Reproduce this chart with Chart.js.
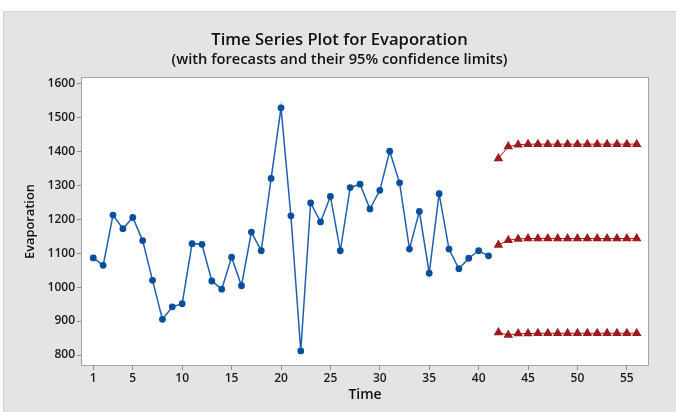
<!DOCTYPE html>
<html>
<head>
<meta charset="utf-8">
<style>
  html, body { margin: 0; padding: 0; background: #ffffff; }
  #panel {
    position: absolute; left: 3px; top: 11px; width: 673px; height: 401px;
    background: #e4e4e4; border-top: 1px solid #d2d2d2; border-left: 1px solid #d2d2d2;
    box-sizing: border-box;
  }
  #evapChart { position: absolute; left: -1px; top: -1px; }
</style>
</head>
<body>
<div id="panel"><canvas id="evapChart" width="673" height="401"></canvas></div>

<script src="https://cdn.jsdelivr.net/npm/chart.js@4.4.1/dist/chart.umd.min.js"></script>
<script>
    // observed evaporation, time 1..41
    var observed = [1086, 1064, 1212, 1172, 1205, 1137, 1020, 905, 942, 951,
                    1128, 1126, 1018, 994, 1088, 1004, 1162, 1107, 1320, 1528,
                    1210, 812, 1248, 1192, 1267, 1107, 1293, 1303, 1230, 1285,
                    1400, 1307, 1112, 1223, 1041, 1275, 1112, 1054, 1085, 1107,
                    1092];
    // forecasts, time 42..56
    var forecastStart = 42;
    var forecast = [1124, 1138, 1142, 1143, 1143, 1143, 1143, 1143, 1143, 1143, 1143, 1143, 1143, 1143, 1143];
    var upper    = [1379, 1414, 1419, 1421, 1421, 1421, 1421, 1421, 1421, 1421, 1421, 1421, 1421, 1421, 1421];
    var lower    = [866, 859, 863, 863, 864, 864, 864, 864, 864, 864, 864, 864, 864, 864, 864];

    var xTicks = [1, 5, 10, 15, 20, 25, 30, 35, 40, 45, 50, 55];
    var yTicks = [800, 900, 1000, 1100, 1200, 1300, 1400, 1500, 1600];

    var fontFamily = '"Open Sans", "Noto Sans", sans-serif';
    var red = '#9c1a1e';

    function toPoints(values, start) {
        return values.map(function(v, i) { return { x: start + i, y: v }; });
    }

    function forecastSet(values) {
        return {
            data: toPoints(values, forecastStart),
            borderColor: red,
            backgroundColor: red,
            borderWidth: 1,
            pointStyle: 'triangle',
            pointRadius: 5.5,
            pointBorderWidth: 0,
            tension: 0
        };
    }

    // white plot area and its frame
    var plotFrame = {
        id: 'plotFrame',
        beforeDatasetsDraw: function(chart) {
            var a = chart.chartArea, ctx = chart.ctx;
            ctx.save();
            ctx.fillStyle = '#ffffff';
            ctx.fillRect(a.left, a.top, a.right - a.left, a.bottom - a.top);
            ctx.restore();
        },
        afterDatasetsDraw: function(chart) {
            var a = chart.chartArea, ctx = chart.ctx;
            ctx.save();
            ctx.strokeStyle = '#a3a3a3';
            ctx.lineWidth = 1;
            ctx.strokeRect(a.left - 0.5, a.top - 0.5, a.right - a.left + 1, a.bottom - a.top + 1);
            ctx.restore();
        }
    };

    var ctx = document.getElementById('evapChart').getContext('2d');
    var chart = new Chart(ctx, {
        type: 'line',
        data: {
            datasets: [{
                data: toPoints(observed, 1),
                borderColor: '#1f5fae',
                backgroundColor: '#0a4f9e',
                borderWidth: 1.5,
                pointRadius: 3.4,
                pointBorderWidth: 0,
                tension: 0
            },
            forecastSet(upper),
            forecastSet(forecast),
            forecastSet(lower)]
        },
        options: {
            responsive: false,
            animation: false,
            layout: { padding: 0 },
            plugins: {
                legend: { display: false },
                tooltip: { enabled: false },
                title: {
                    display: true,
                    text: 'Time Series Plot for Evaporation',
                    color: '#111111',
                    font: { family: fontFamily, size: 16.6, weight: '600', lineHeight: 1.2 },
                    padding: { top: 19, bottom: 0 }
                },
                subtitle: {
                    display: true,
                    text: '(with forecasts and their 95% confidence limits)',
                    color: '#111111',
                    font: { family: fontFamily, size: 14.7, weight: '600', lineHeight: 1.2 },
                    padding: { top: 1, bottom: 9.5 }
                }
            },
            scales: {
                x: {
                    type: 'linear',
                    min: -0.14,
                    max: 57.14,
                    afterBuildTicks: function(scale) {
                        scale.ticks = xTicks.map(function(v) { return { value: v }; });
                    },
                    afterFit: function(scale) { scale.height = 47; },
                    grid: { drawOnChartArea: false, tickLength: 5, color: '#8c8c8c' },
                    border: { display: false },
                    ticks: {
                        autoSkip: false, maxRotation: 0, padding: 1, color: '#1a1a1a',
                        font: { family: fontFamily, size: 12, weight: '600' }
                    },
                    title: {
                        display: true, text: 'Time', color: '#111111',
                        font: { family: fontFamily, size: 14, weight: '600', lineHeight: 1.2 },
                        padding: { top: 0, bottom: 8.6 }
                    }
                },
                y: {
                    type: 'linear',
                    min: 770.6,
                    max: 1615.6,
                    afterBuildTicks: function(scale) {
                        scale.ticks = yTicks.map(function(v) { return { value: v }; });
                    },
                    afterFit: function(scale) { scale.width = 79; },
                    grid: { drawOnChartArea: false, tickLength: 5, color: '#8c8c8c' },
                    border: { display: false },
                    ticks: {
                        padding: 2, color: '#1a1a1a',
                        font: { family: fontFamily, size: 12, weight: '600' },
                        callback: function(value) { return String(value); }
                    },
                    title: {
                        display: true, text: 'Evaporation', color: '#111111',
                        font: { family: fontFamily, size: 12.8, weight: '600', lineHeight: 1.2 },
                        padding: { top: 19.3, bottom: 0 }
                    }
                },
                // empty right-hand box that keeps the plot's right margin
                yRight: {
                    type: 'linear',
                    position: 'right',
                    display: true,
                    afterFit: function(scale) { scale.width = 28; },
                    grid: { display: false },
                    border: { display: false },
                    ticks: { display: false }
                }
            }
        },
        plugins: [plotFrame]
    });
</script>
</body>
</html>
